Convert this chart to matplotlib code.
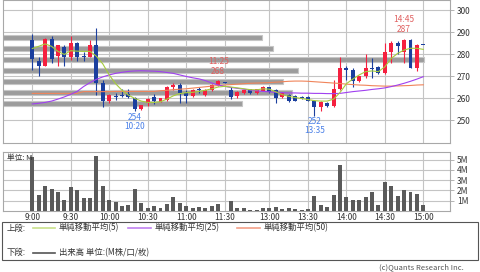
import matplotlib
matplotlib.use('Agg')
import matplotlib.pyplot as plt
import matplotlib.transforms as mtransforms
from matplotlib.patches import Rectangle
from matplotlib.lines import Line2D

plt.rcParams['font.family'] = ['Noto Sans CJK JP', 'DejaVu Sans']

# ---------------- data ----------------
times = ['9:00', '9:05', '9:10', '9:15', '9:20', '9:25', '9:30', '9:35', '9:40', '9:45',
         '9:50', '9:55', '10:00', '10:05', '10:10', '10:15', '10:20', '10:25', '10:30', '10:35',
         '10:40', '10:45', '10:50', '10:55', '11:00', '11:05', '11:10', '11:15', '11:20', '11:25',
         '11:30',
         '12:30', '12:35', '12:40', '12:45', '12:50', '12:55', '13:00', '13:05', '13:10', '13:15',
         '13:20', '13:25', '13:30', '13:35', '13:40', '13:45', '13:50', '13:55', '14:00', '14:05',
         '14:10', '14:15', '14:20', '14:25', '14:30', '14:35', '14:40', '14:45', '14:50', '14:55',
         '15:00']

opens = [286.2, 276.8, 274.7, 287.0, 279.0, 283.3, 278.8, 285.2, 279.2, 278.8,
         284.1, 267.0, 258.8, 261.0, 261.1, 261.7, 259.8, 254.8, 257.6, 260.6,
         258.3, 259.1, 264.8, 266.1, 262.4, 261.0, 264.0, 261.4, 263.5, 265.9,
         267.2,
         263.8, 261.0, 262.1, 264.0, 262.1, 263.3, 264.8, 263.6, 260.6, 261.4,
         260.9, 260.6, 260.6, 258.8, 256.1, 257.6, 256.4, 264.0, 273.8, 272.7,
         267.9, 270.0, 273.6, 274.2, 271.2, 281.1, 285.2, 281.1, 286.4, 273.5,
         284.2]
highs = [289.3, 278.8, 287.5, 288.3, 284.1, 284.1, 288.3, 285.5, 281.0, 286.4,
         292.0, 268.2, 261.6, 262.4, 264.0, 264.0, 260.6, 257.0, 259.8, 261.8,
         260.0, 265.3, 266.6, 266.6, 263.6, 264.2, 265.2, 264.2, 266.4, 268.0,
         267.5,
         265.2, 263.0, 263.8, 264.3, 264.3, 265.5, 265.2, 264.0, 262.8, 261.6,
         261.2, 260.8, 260.8, 259.2, 258.6, 258.3, 268.2, 278.8, 274.5, 273.5,
         270.0, 280.0, 278.0, 274.6, 285.2, 286.0, 286.0, 287.0, 287.0, 284.6,
         284.3]
lows = [272.7, 270.0, 274.5, 275.8, 274.7, 274.7, 277.5, 276.8, 276.8, 278.5,
        261.5, 255.8, 257.6, 259.3, 260.3, 259.8, 254.0, 254.6, 256.2, 257.5,
        258.0, 258.8, 263.6, 257.9, 257.7, 260.6, 262.2, 260.8, 263.2, 265.4,
        266.8,
        259.6, 259.8, 261.8, 261.8, 261.9, 263.0, 262.5, 257.6, 259.8, 258.3,
        258.6, 259.6, 258.6, 252.0, 254.0, 255.8, 256.0, 263.8, 268.2, 264.9,
        267.5, 269.0, 269.0, 271.0, 271.0, 275.8, 280.0, 275.8, 273.5, 272.4,
        284.0]
closes = [277.7, 274.7, 287.0, 277.7, 284.0, 278.8, 285.2, 278.8, 278.8, 284.1,
          267.0, 258.8, 261.2, 260.6, 260.7, 260.4, 254.8, 256.8, 259.4, 258.5,
          259.8, 265.2, 266.1, 262.4, 260.8, 263.8, 263.6, 263.8, 266.0, 267.9,
          266.9,
          260.5, 262.6, 263.6, 262.1, 264.0, 264.8, 262.9, 259.8, 262.1, 258.8,
          258.8, 259.8, 258.8, 256.1, 258.3, 256.5, 264.0, 273.8, 272.7, 267.7,
          270.0, 273.8, 273.2, 271.2, 281.1, 285.2, 283.8, 286.4, 273.5, 284.1,
          284.1]

# volume in M shares
volume = [5.2, 1.6, 2.4, 2.1, 1.8, 1.1, 2.35, 2.0, 1.3, 1.3,
          5.3, 2.4, 1.1, 0.85, 0.45, 0.6, 2.1, 0.75, 0.25, 0.45,
          0.3, 0.7, 1.4, 0.75, 0.5, 0.3, 0.4, 0.3, 0.45, 0.7,
          0.0,
          0.95, 0.25, 0.3, 0.05, 0.05, 0.3, 0.3, 0.4, 0.2, 0.25,
          0.15, 0.1, 0.15, 1.5, 0.6, 0.4, 1.6, 4.5, 1.4, 1.05,
          1.05, 1.35, 1.85, 0.55, 2.85, 2.4, 1.45, 2.0, 1.8, 1.65,
          0.55]

ma5 = [282.5, 283.5, 284.6, 283.5, 281.2, 279.8, 281.5, 281.3, 281.2, 281.2,
       279.0, 275.5, 270.5, 266.5, 263.5, 261.3, 259.8, 258.6, 258.0, 258.0,
       258.3, 259.5, 261.0, 262.0, 262.4, 262.6, 263.0, 263.5, 264.2, 265.0,
       265.3,
       265.0, 264.6, 264.2, 263.8, 263.7, 264.2, 264.0, 262.8, 261.5, 260.8,
       260.2, 259.8, 259.3, 258.8, 258.6, 258.6, 259.5, 262.5, 266.5, 268.6,
       270.5, 272.0, 272.3, 272.0, 274.2, 278.0, 280.3, 281.8, 282.6, 282.6,
       282.1]
ma25 = [257.3, 257.6, 258.0, 258.6, 259.5, 260.5, 261.7, 263.0, 265.2, 267.0,
        268.5, 269.6, 270.5, 271.2, 271.7, 272.1, 272.3, 272.4, 272.3, 272.2,
        272.0, 271.6, 271.2, 270.5, 269.8, 269.2, 268.7, 267.9, 266.8, 265.9,
        265.3,
        264.8, 264.4, 264.0, 263.6, 263.3, 263.0, 262.8, 262.6, 262.4, 262.3,
        262.3, 262.2, 262.2, 262.1, 262.1, 262.0, 262.0, 262.1, 262.5, 262.9,
        263.2, 263.5, 263.9, 264.2, 264.6, 265.2, 265.9, 266.7, 267.6, 268.6,
        269.7]
ma50 = [262.1, 262.1, 262.1, 262.1, 262.1, 262.1, 262.1, 262.1, 262.9, 262.9,
        262.9, 262.9, 262.9, 263.0, 263.0, 263.0, 263.0, 263.0, 263.0, 263.0,
        263.3, 263.5, 263.8, 264.0, 264.2, 264.5, 264.8, 265.1, 265.4, 265.7,
        265.9,
        266.1, 266.3, 266.5, 266.7, 266.8, 266.9, 267.0, 267.2, 267.4, 267.6,
        267.7, 267.7, 267.6, 267.4, 267.2, 267.0, 266.8, 266.6, 266.3, 266.1,
        265.9, 265.8, 265.6, 265.5, 265.4, 265.4, 265.5, 265.6, 265.7, 265.9,
        266.0]

# volume by price (M shares)
vp_prices = [257.5, 262.5, 267.5, 272.5, 277.5, 282.5, 287.5]
vp_volume = [23.9, 28.9, 28.0, 29.5, 42.1, 27.0, 25.9]

tick_labels = ['9:00', '9:30', '10:00', '10:30', '11:00', '11:30',
               '13:00', '13:30', '14:00', '14:30', '15:00']
price_ticks = [250, 260, 270, 280, 290, 300]
vol_ticks = [1, 2, 3, 4, 5]
vol_tick_labels = ['1M', '2M', '3M', '4M', '5M']

high_marks = [('11:25', 268), ('14:45', 287)]
low_marks = [('10:20', 254), ('13:35', 252)]

# ---------------- styles ----------------
UP = '#f5203f'
DOWN = '#1b3f9e'
GRID = '#c4c4c4'
SPINE = '#a8a8a8'
FS = 6

W, H = 480, 272
fig = plt.figure(figsize=(W / 100, H / 100), dpi=100)
fig.patch.set_facecolor('white')

def rect(l, t, r, b):
    return [l / W, 1 - b / H, (r - l) / W, (b - t) / H]

xs = list(range(len(times)))
tick_pos = [times.index(t) for t in tick_labels]
xlim = (-4.57, 65.16)

# ---------------- price panel ----------------
ax = fig.add_axes(rect(3, 0, 450, 143))
ax.set_xlim(*xlim)
ax.set_ylim(239.55, 304.55)
ax.set_xticks(tick_pos)
ax.set_xticklabels([])
ax.set_yticks(price_ticks)
ax.yaxis.tick_right()
ax.tick_params(axis='y', length=3, width=0.6, color=SPINE, pad=2, labelsize=FS,
               labelcolor='#333333')
ax.tick_params(axis='x', length=0)
ax.grid(True, color=GRID, linewidth=0.8, zorder=0)
ax.set_axisbelow(True)
for s in ax.spines.values():
    s.set_color(SPINE)
    s.set_linewidth(0.8)

vp_xmax = 44.7
vp_trans = mtransforms.blended_transform_factory(
    mtransforms.Affine2D().scale(1.0 / vp_xmax, 1.0) + ax.transAxes, ax.transData)
ax.barh(vp_prices, vp_volume, height=2.7, left=0, color='#9c9c9c',
        edgecolor='#c6c6c6', linewidth=0.8, transform=vp_trans, zorder=1)
ax.set_xlim(*xlim)
ax.set_ylim(239.55, 304.55)

# candles
for x, o, h, l, c in zip(xs, opens, highs, lows, closes):
    col = UP if c > o else DOWN
    ax.vlines(x, l, h, color=col, linewidth=0.8, zorder=3)
    bottom = min(o, c)
    height = max(abs(c - o), 0.45)
    ax.bar(x, height, bottom=bottom, width=0.62, color=col, edgecolor='none', zorder=4)

ax.plot(xs, ma50, color='#f0845a', linewidth=0.8, zorder=5)
ax.plot(xs, ma25, color='#a040f0', linewidth=0.8, zorder=5)
ax.plot(xs, ma5, color='#a6cc3c', linewidth=0.8, zorder=5)

for t, p in high_marks:
    xi = times.index(t)
    ax.annotate(str(p), (xi, p), xytext=(0, 9), textcoords='offset pixels',
                ha='center', va='center', fontsize=FS, color='#e06060', zorder=6)
    ax.annotate(t, (xi, p), xytext=(0, 19), textcoords='offset pixels',
                ha='center', va='center', fontsize=FS, color='#e06060', zorder=6)
for t, p in low_marks:
    xi = times.index(t)
    ax.annotate(str(p), (xi, p), xytext=(0, -6), textcoords='offset pixels',
                ha='center', va='center', fontsize=FS, color='#4a80e8', zorder=6)
    ax.annotate(t, (xi, p), xytext=(0, -15), textcoords='offset pixels',
                ha='center', va='center', fontsize=FS, color='#4a80e8', zorder=6)

# ---------------- volume panel ----------------
axv = fig.add_axes(rect(3, 152, 450, 211))
axv.set_xlim(*xlim)
axv.set_ylim(0, 5.73)
axv.bar(xs, volume, width=0.62, color='#5a5a5a', zorder=3)
axv.set_xticks(tick_pos)
axv.set_xticklabels(tick_labels)
axv.set_yticks(vol_ticks)
axv.set_yticklabels(vol_tick_labels)
axv.yaxis.tick_right()
axv.tick_params(axis='y', length=3, width=0.6, color=SPINE, pad=2, labelsize=FS,
                labelcolor='#333333')
axv.tick_params(axis='x', length=0, pad=1.5, labelsize=FS, labelcolor='#333333')
axv.grid(True, color=GRID, linewidth=0.8, zorder=0)
axv.set_axisbelow(True)
for s in axv.spines.values():
    s.set_color(SPINE)
    s.set_linewidth(0.8)
axv.text(0.01, 0.9, '単位: M', transform=axv.transAxes, fontsize=5.5,
         color='#333333', ha='left', va='center', zorder=5)

# ---------------- legend box ----------------
fig.add_artist(Rectangle((2 / W, 1 - 260 / H), 476 / W, 38 / H, transform=fig.transFigure,
                         fill=False, edgecolor='#555555', linewidth=0.8))

def fy(y):
    return 1 - y / H

row1, row2 = 228, 252.5
fig.text(7 / W, fy(row1), '上段:', fontsize=FS, va='center', ha='left', color='#333333')
fig.add_artist(Line2D([33 / W, 55 / W], [fy(row1), fy(row1)], color='#c8e08a', lw=1.2,
                      transform=fig.transFigure))
fig.text(59 / W, fy(row1), '単純移動平均(5)', fontsize=FS, va='center', ha='left', color='#333333')
fig.add_artist(Line2D([128 / W, 151 / W], [fy(row1), fy(row1)], color='#c080f0', lw=1.2,
                      transform=fig.transFigure))
fig.text(155 / W, fy(row1), '単純移動平均(25)', fontsize=FS, va='center', ha='left', color='#333333')
fig.add_artist(Line2D([237 / W, 260 / W], [fy(row1), fy(row1)], color='#f4a088', lw=1.2,
                      transform=fig.transFigure))
fig.text(264 / W, fy(row1), '単純移動平均(50)', fontsize=FS, va='center', ha='left', color='#333333')

fig.text(7 / W, fy(row2), '下段:', fontsize=FS, va='center', ha='left', color='#333333')
fig.add_artist(Line2D([33 / W, 55 / W], [fy(row2), fy(row2)], color='#555555', lw=1.2,
                      transform=fig.transFigure))
fig.text(59 / W, fy(row2), '出来高 単位:(M株/口/枚)', fontsize=FS, va='center', ha='left',
         color='#333333')

fig.text(464 / W, fy(267.5), '(c)Quants Research Inc.', fontsize=5.5, va='center', ha='right',
         color='#555555')

fig.savefig('out.png', dpi=100)
